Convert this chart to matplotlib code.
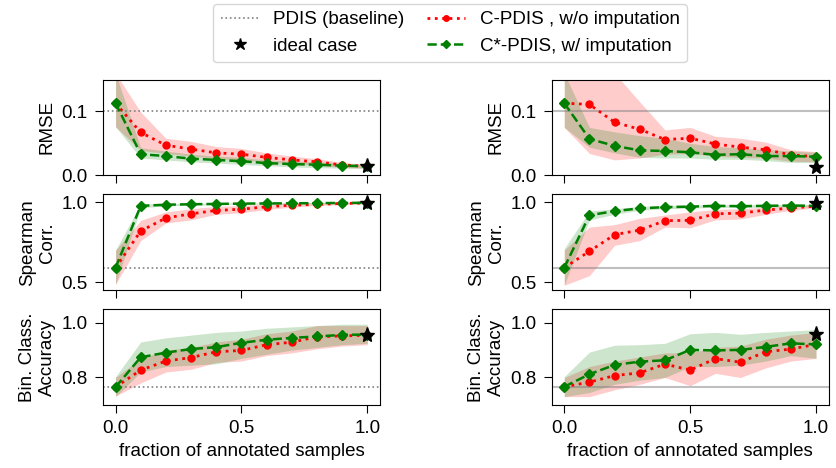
import numpy as np
import matplotlib.pyplot as plt

plt.rcParams['font.family'] = ['Liberation Sans', 'DejaVu Sans']
plt.rcParams['font.size'] = 13.5

x = np.linspace(0, 1, 11)
row_labels = ["RMSE", "Spearman\nCorr.", "Bin. Class.\nAccuracy"]
ylims = [(0.0, 0.15), (0.45, 1.05), (0.70, 1.05)]
yticks = [[0.0, 0.1], [0.5, 1.0], [0.8, 1.0]]
baseline = [0.1, 0.59, 0.766]

# left column
l_red = [
    [0.113, 0.067, 0.047, 0.041, 0.035, 0.033, 0.028, 0.024, 0.021, 0.016, 0.014],
    [0.59, 0.82, 0.902, 0.928, 0.949, 0.957, 0.972, 0.982, 0.987, 0.993, 0.996],
    [0.765, 0.827, 0.86, 0.873, 0.894, 0.899, 0.92, 0.929, 0.949, 0.952, 0.955],
]
l_red_hi = [
    [0.16, 0.099, 0.058, 0.053, 0.045, 0.042, 0.035, 0.03, 0.026, 0.02, 0.017],
    [0.70, 0.887, 0.94, 0.96, 0.975, 0.98, 0.99, 0.995, 0.998, 1.0, 1.0],
    [0.80, 0.87, 0.90, 0.91, 0.93, 0.94, 0.96, 0.97, 0.99, 0.99, 0.99],
]
l_red_lo = [
    [0.076, 0.039, 0.034, 0.03, 0.026, 0.024, 0.021, 0.018, 0.016, 0.012, 0.011],
    [0.485, 0.76, 0.87, 0.89, 0.925, 0.935, 0.955, 0.97, 0.98, 0.985, 0.99],
    [0.732, 0.78, 0.82, 0.83, 0.855, 0.86, 0.88, 0.89, 0.905, 0.915, 0.92],
]
l_grn = [
    [0.113, 0.033, 0.030, 0.026, 0.024, 0.022, 0.019, 0.0175, 0.0165, 0.015, 0.014],
    [0.59, 0.978, 0.985, 0.988, 0.99, 0.992, 0.993, 0.994, 0.995, 0.996, 0.997],
    [0.765, 0.874, 0.891, 0.904, 0.911, 0.927, 0.938, 0.945, 0.95, 0.956, 0.957],
]
l_grn_hi = [
    [0.16, 0.043, 0.038, 0.033, 0.030, 0.028, 0.024, 0.022, 0.021, 0.019, 0.017],
    [0.70, 0.99, 0.992, 0.994, 0.995, 0.996, 0.997, 0.998, 0.998, 0.999, 0.999],
    [0.803, 0.93, 0.945, 0.955, 0.965, 0.97, 0.98, 0.985, 0.99, 0.995, 0.995],
]
l_grn_lo = [
    [0.076, 0.027, 0.024, 0.021, 0.019, 0.017, 0.015, 0.013, 0.012, 0.011, 0.011],
    [0.485, 0.965, 0.978, 0.982, 0.985, 0.988, 0.989, 0.99, 0.992, 0.993, 0.995],
    [0.73, 0.82, 0.84, 0.845, 0.85, 0.87, 0.885, 0.90, 0.91, 0.92, 0.925],
]
l_ideal = [0.014, 0.995, 0.957]

# right column
r_red = [
    [0.113, 0.111, 0.083, 0.072, 0.056, 0.058, 0.049, 0.044, 0.040, 0.032, 0.029],
    [0.59, 0.693, 0.797, 0.826, 0.885, 0.887, 0.928, 0.932, 0.951, 0.964, 0.976],
    [0.766, 0.783, 0.807, 0.817, 0.849, 0.827, 0.869, 0.856, 0.894, 0.904, 0.921],
]
r_red_hi = [
    [0.16, 0.16, 0.16, 0.115, 0.071, 0.075, 0.061, 0.058, 0.052, 0.040, 0.037],
    [0.70, 0.845, 0.86, 0.90, 0.92, 0.94, 0.955, 0.96, 0.97, 0.975, 0.985],
    [0.80, 0.84, 0.86, 0.875, 0.89, 0.89, 0.91, 0.915, 0.94, 0.955, 0.965],
]
r_red_lo = [
    [0.075, 0.034, 0.024, 0.027, 0.033, 0.034, 0.030, 0.028, 0.027, 0.022, 0.021],
    [0.48, 0.54, 0.73, 0.76, 0.845, 0.84, 0.89, 0.895, 0.925, 0.95, 0.965],
    [0.73, 0.73, 0.755, 0.775, 0.80, 0.77, 0.815, 0.80, 0.835, 0.86, 0.87],
]
r_grn = [
    [0.113, 0.057, 0.046, 0.039, 0.038, 0.036, 0.032, 0.033, 0.030, 0.030, 0.029],
    [0.59, 0.919, 0.945, 0.962, 0.970, 0.973, 0.978, 0.976, 0.978, 0.98, 0.978],
    [0.766, 0.812, 0.846, 0.858, 0.863, 0.901, 0.899, 0.901, 0.912, 0.925, 0.921],
]
r_grn_hi = [
    [0.16, 0.075, 0.068, 0.062, 0.058, 0.050, 0.045, 0.043, 0.040, 0.038, 0.036],
    [0.71, 0.945, 0.96, 0.975, 0.98, 0.983, 0.986, 0.985, 0.986, 0.987, 0.987],
    [0.803, 0.893, 0.918, 0.92, 0.925, 0.96, 0.965, 0.958, 0.965, 0.97, 0.975],
]
r_grn_lo = [
    [0.075, 0.044, 0.035, 0.028, 0.027, 0.027, 0.025, 0.025, 0.023, 0.020, 0.020],
    [0.48, 0.89, 0.925, 0.95, 0.96, 0.963, 0.97, 0.967, 0.97, 0.972, 0.97],
    [0.73, 0.745, 0.775, 0.79, 0.80, 0.84, 0.84, 0.845, 0.86, 0.88, 0.87],
]
r_ideal = [0.013, 0.997, 0.96]

fig, axes = plt.subplots(3, 2, figsize=(8.37, 4.68), dpi=100, sharex=True)
fig.subplots_adjust(left=0.123, right=0.99, bottom=0.135, top=0.83,
                    wspace=0.62, hspace=0.2)

cols = [
    (l_red, l_red_hi, l_red_lo, l_grn, l_grn_hi, l_grn_lo, l_ideal),
    (r_red, r_red_hi, r_red_lo, r_grn, r_grn_hi, r_grn_lo, r_ideal),
]

for c, (red, red_hi, red_lo, grn, grn_hi, grn_lo, ideal) in enumerate(cols):
    for r in range(3):
        ax = axes[r, c]
        if c == 0:
            hb = ax.axhline(baseline[r], color='gray', ls=':', lw=1.2)
        else:
            ax.axhline(baseline[r], color='gray', ls='-', lw=1.5, alpha=0.5)
        ax.fill_between(x, red_lo[r], red_hi[r], color='red', alpha=0.2, lw=0)
        ax.fill_between(x, grn_lo[r], grn_hi[r], color='green', alpha=0.2, lw=0)
        hr, = ax.plot(x, red[r], color='red', ls=':', lw=2, marker='o', ms=5)
        hg, = ax.plot(x, grn[r], color='green', ls='--', lw=1.8, marker='D', ms=5)
        hs, = ax.plot([1.0], [ideal[r]], color='black', ls='', marker='*', ms=11)
        ax.set_ylim(*ylims[r])
        ax.set_yticks(yticks[r])
        ax.set_ylabel(row_labels[r])
        ax.tick_params(length=6, pad=5)
        if c == 0 and r == 0:
            handles = [hb, hs, hr, hg]
    axes[2, c].set_xlabel("fraction of annotated samples", labelpad=4)
    axes[2, c].set_xticks([0.0, 0.5, 1.0])

labels = ["PDIS (baseline)", "ideal case",
          "C-PDIS , w/o imputation", "C*-PDIS, w/ imputation"]
fig.legend(handles, labels, loc='upper center', bbox_to_anchor=(0.538, 1.0),
           ncol=2, fontsize=13.5, handlelength=2, columnspacing=1.2,
           markerscale=0.8, borderaxespad=0.2)

fig.savefig("out.png")
